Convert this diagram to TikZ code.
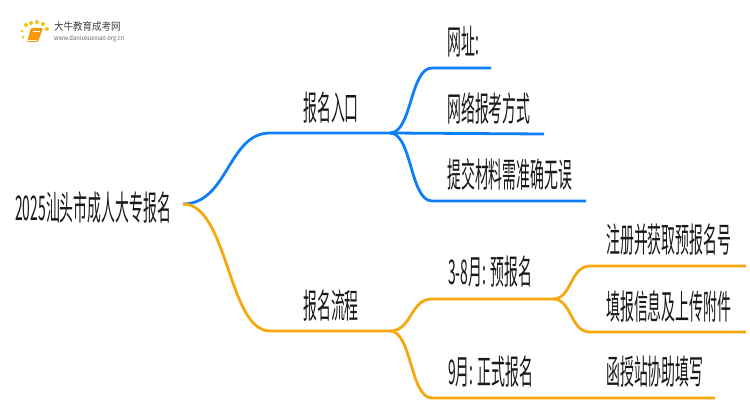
\documentclass[tikz,border=0pt]{standalone}
\usepackage{fontspec}
\setmainfont{Noto Sans CJK SC}
\newcommand{\sq}[1]{\scalebox{1.39}[3.4]{#1}}
\definecolor{bl}{HTML}{0F7FF5}
\definecolor{og}{HTML}{F5A80F}
\tikzset{
 lbl/.style={inner sep=0pt,anchor=west,text=black!90},
 blue line/.style={draw=bl,line width=2.8pt,line cap=butt},
 orange line/.style={draw=og,line width=2.8pt,line cap=butt},
 dot/.style={fill=#1,draw=none,circle,inner sep=0pt,minimum size=4pt},
}
\begin{document}
\begin{tikzpicture}[x=1pt,y=-1pt]
\useasboundingbox (0,0) rectangle (750,410);
% logo
\node[dot=og!70!yellow,minimum size=3pt] (d1) at (23,37) {};
\node[dot=og!70!yellow,minimum size=3pt] (d2) at (22,31) {};
\node[dot=og!70!yellow] (d3) at (26,25) {};
\node[dot=og!70!yellow] (d4) at (31,23) {};
\node[dot=og!70!yellow] (d5) at (37,22) {};
\node[dot=og!70!yellow] (d6) at (43,24) {};
\node[dot=og!70!yellow] (d7) at (47,29) {};
\fill[og!90!red,rounded corners=1pt] (31,28) -- (43,28) -- (38,42) -- (27,42) -- cycle;
\draw[white,line width=.5pt] (33,31) -- (40,31) (28,40) -- (37,40);
\node[inner sep=0pt,anchor=west,text=black!75] (logoa) at (54,27) {\scalebox{.95}[1.05]{\fontsize{10}{10}\selectfont 大牛教育成考网}};
\node[inner sep=0pt,anchor=west,text=black!60] (logob) at (54,38.5) {\scalebox{.97}[1.1]{\fontsize{6}{6}\selectfont www.daniuxuexiao.org.cn}};
% points
\coordinate (root) at (183,204);
\coordinate (a) at (270,133);
\coordinate (aj) at (390,133);
\coordinate (a1) at (432,68);
\coordinate (a1e) at (491,68);
\coordinate (a2e) at (544,134);
\coordinate (a3) at (432,201);
\coordinate (a3e) at (586,201);
\coordinate (b) at (270,331);
\coordinate (bj) at (390,331);
\coordinate (b1) at (432,299);
\coordinate (bk) at (553,299);
\coordinate (b11) at (590,266);
\coordinate (b11e) at (746,266);
\coordinate (b12) at (590,332);
\coordinate (b12e) at (746,332);
\coordinate (b2) at (432,398);
\coordinate (b2e) at (715,398);
% connectors
\draw[blue line] (root) .. controls (228,204) and (228,133) .. (a) -- (aj);
\draw[blue line] (aj) .. controls (412,133) and (410,68) .. (a1) -- (a1e);
\draw[blue line] (aj) -- (a2e);
\draw[blue line] (aj) .. controls (412,133) and (410,201) .. (a3) -- (a3e);
\draw[orange line] (root) .. controls (228,204) and (228,331) .. (b) -- (bj);
\draw[orange line] (bj) .. controls (412,331) and (410,299) .. (b1) -- (bk);
\draw[orange line] (bj) .. controls (412,331) and (410,398) .. (b2) -- (b2e);
\draw[orange line] (bk) .. controls (572,299) and (570,266) .. (b11) -- (b11e);
\draw[orange line] (bk) .. controls (572,299) and (570,332) .. (b12) -- (b12e);
% labels
\node[lbl] (nroot) at (15,208) {\sq{2025汕头市成人大专报名}};
\node[lbl] (na) at (303,108) {\sq{报名入口}};
\node[lbl] (na1) at (447,42) {\sq{网址:}};
\node[lbl] (na2) at (447,108) {\sq{网络报考方式}};
\node[lbl] (na3) at (447,174) {\sq{提交材料需准确无误}};
\node[lbl] (nb) at (303,306) {\sq{报名流程}};
\node[lbl] (nb1) at (448,272) {\sq{3-8月: 预报名}};
\node[lbl] (nb11) at (606,240) {\sq{注册并获取预报名号}};
\node[lbl] (nb12) at (606,306) {\sq{填报信息及上传附件}};
\node[lbl] (nb2) at (448,372) {\sq{9月: 正式报名}};
\node[lbl] (nb21) at (606,372) {\sq{函授站协助填写}};
\end{tikzpicture}
\end{document}
